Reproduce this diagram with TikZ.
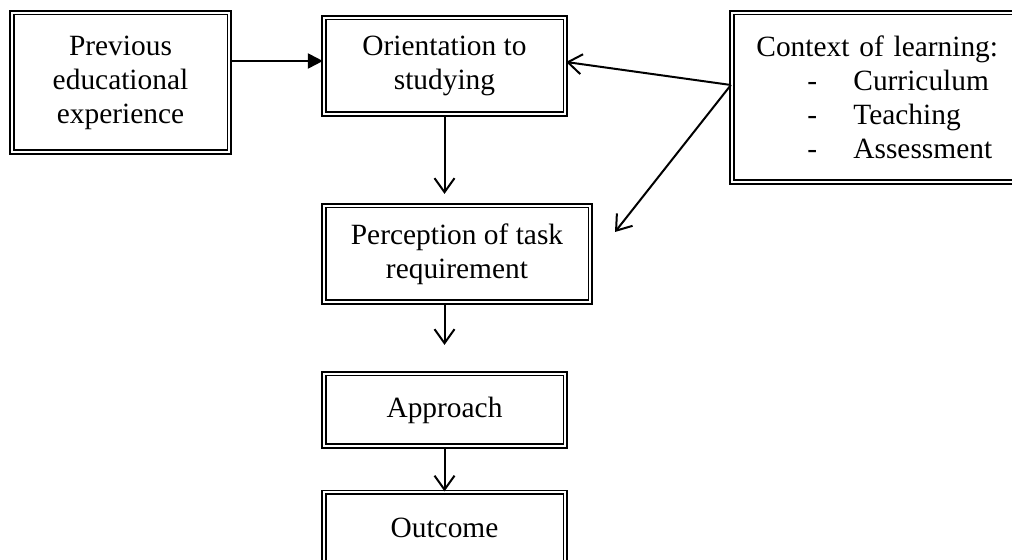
\documentclass[tikz,border=0pt]{standalone}
\usepackage{fontspec}
\setmainfont{Liberation Serif}
\usetikzlibrary{arrows.meta}
\usetikzlibrary{positioning}

\begin{document}
\begin{tikzpicture}[x=0.5pt,y=-0.5pt]
  \tikzset{dbox/.style = {shape=rectangle,draw,double,double distance=0.9pt,line width=0.9pt,inner sep=2pt,align=center,font=\fontsize{14.7}{17}\selectfont}}
  \tikzset{edge/.style = {line width=1pt}}
  \tikzset{%
  tipA/.tip={Triangle[length=7.5pt,width=7.5pt]},
  tipB/.tip={Straight Barb[length=7pt,width=10pt,line width=1pt]},
}
  \clip (0,0) rectangle (1012,560);

	\node[dbox,minimum width=108.7pt,minimum height=69.7pt] (prev) at (120.5,82.5) {Previous\\educational\\experience};
	\node[dbox,minimum width=120.7pt,minimum height=48.2pt] (orient) at (444.5,66) {Orientation to\\studying};
	\node[dbox,minimum height=84.7pt,text width=130pt,inner xsep=12.3pt,align=left] (context) at (886.4,97.5)
	  {Context of learning:\\
	   \makebox[48.5pt][l]{\hspace*{25.5pt}-}Curriculum\\
	   \makebox[48.5pt][l]{\hspace*{25.5pt}-}Teaching\\
	   \makebox[48.5pt][l]{\hspace*{25.5pt}-}Assessment};

	\node[dbox,minimum width=133.2pt,minimum height=48.2pt] (percept) at (457,254) {Perception of task\\requirement};
	\node[dbox,minimum width=120.7pt,minimum height=36.2pt] (approach) at (444.5,410) {Approach};
	\node[dbox,minimum width=120.7pt,minimum height=35.7pt] (outcome) at (444.5,528) {Outcome};

	\coordinate (prevpin) at (0,61);
	\coordinate (ctxpin) at (0,85);
	\coordinate (orientpin) at (0,62);
	\coordinate (perceptend) at (615,232);

    \draw[edge,-tipA] (prev.east |- prevpin) -- (orient.west |- prevpin);
    \draw[edge,-tipB] (context.west |- ctxpin) -- (orient.east |- orientpin);
    \draw[edge,-tipB] (context.west |- ctxpin) -- (perceptend);

    \draw[edge,-tipB,shorten >=5.5pt] (orient.south) -- (orient.south |- percept.north);
    \draw[edge,-tipB,shorten >=14pt] (approach.north |- percept.south) -- (approach.north);
    \draw[edge,-tipB] (approach.south) -- (outcome.north);

\end{tikzpicture}
\end{document}
